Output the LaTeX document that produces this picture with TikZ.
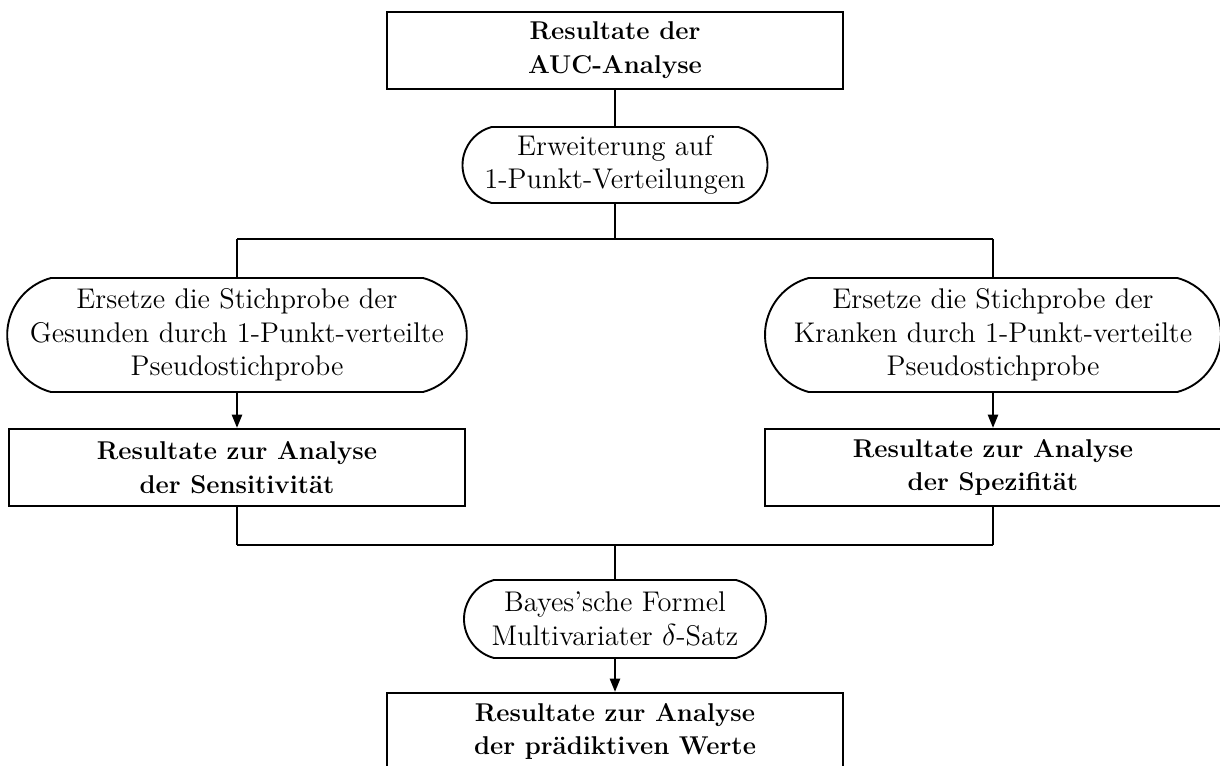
\documentclass[tikz,border=0pt]{standalone}
\usetikzlibrary{shapes.misc, arrows.meta}

\begin{document}
\begin{tikzpicture}[x=1cm,y=1cm,
  font=\fontsize{13.5}{16}\selectfont,
  resbox/.style={draw=black, line width=1.1pt, align=center, inner sep=0pt,
    font=\fontsize{12.2}{16}\selectfont\bfseries,
    minimum width=7.6cm, minimum height=1.2833cm},
  stepbox/.style={rounded rectangle, rounded rectangle arc length=150,
    draw=black, line width=0.9pt, align=center, inner sep=0pt},
  link/.style={line width=0.9pt},
  flow/.style={line width=0.9pt, -{Triangle[length=2.2mm,width=1.7mm]}}]
\useasboundingbox (0,0) rectangle (20.3333,12.7500);
\clip (0,0) rectangle (20.3333,12.7500);
\node[resbox] (auc) at (10.2500,11.9083) {Resultate der\\AUC-Analyse};
\node[stepbox, minimum width=5.0833cm, minimum height=1.2667cm] (ext) at (10.2500,10.0000)
  {Erweiterung auf\\1-Punkt-Verteilungen};
\coordinate (split) at (10.2500,8.7667);
\coordinate (splitL) at (3.9500,8.7667);
\coordinate (splitR) at (16.5500,8.7667);
\node[stepbox, minimum width=7.6cm, minimum height=1.9cm] (gesund) at (3.9500,7.1667)
  {Ersetze die Stichprobe der\\Gesunden durch 1-Punkt-verteilte\\Pseudostichprobe};
\node[stepbox, minimum width=7.6cm, minimum height=1.9cm] (krank) at (16.5500,7.1667)
  {Ersetze die Stichprobe der\\Kranken durch 1-Punkt-verteilte\\Pseudostichprobe};
\node[resbox] (sens) at (3.9500,4.9583) {Resultate zur Analyse\\der Sensitivität};
\node[resbox] (spez) at (16.5500,4.9583) {Resultate zur Analyse\\der Spezifität};
\coordinate (join) at (10.2500,3.6667);
\coordinate (joinL) at (3.9500,3.6667);
\coordinate (joinR) at (16.5500,3.6667);
\node[stepbox, minimum width=5.0333cm, minimum height=1.3cm] (bayes) at (10.2500,2.4333)
  {Bayes'sche Formel\\Multivariater $\delta$-Satz};
\node[resbox] (pred) at (10.2500,0.5583) {Resultate zur Analyse\\der prädiktiven Werte};
% connectors
\draw[link] (auc.south) -- (ext.north);
\draw[link] (ext.south) -- (split);
\draw[link] (splitL) -- (splitR);
\draw[link] (splitL) -- (gesund.north);
\draw[link] (splitR) -- (krank.north);
\draw[flow] (gesund.south) -- (sens.north);
\draw[flow] (krank.south) -- (spez.north);
\draw[link] (sens.south) -- (joinL);
\draw[link] (spez.south) -- (joinR);
\draw[link] (joinL) -- (joinR);
\draw[link] (join) -- (bayes.north);
\draw[flow] (bayes.south) -- (pred.north);
\end{tikzpicture}
\end{document}
